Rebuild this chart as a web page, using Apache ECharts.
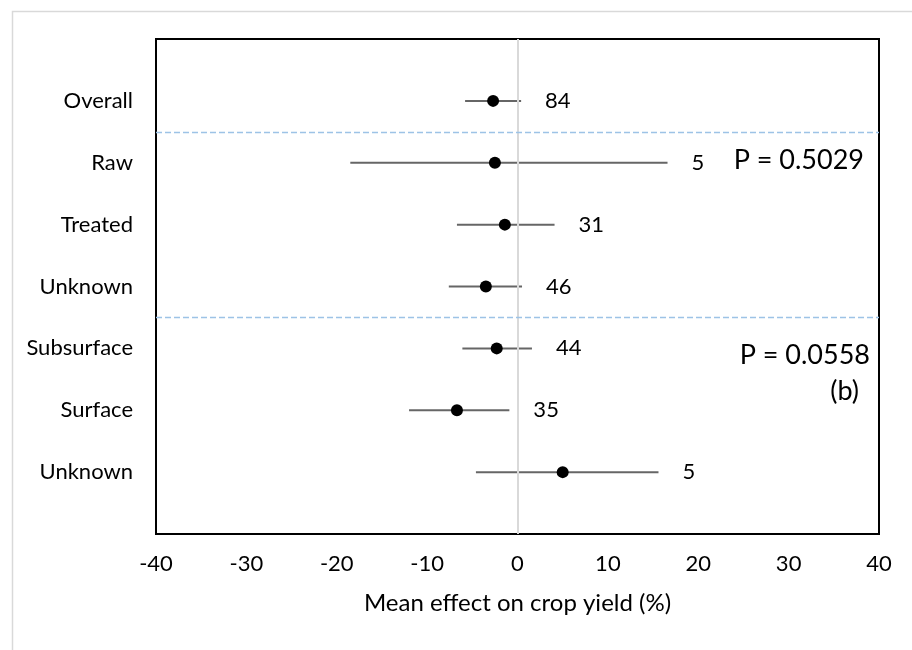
<!DOCTYPE html>
<html>
<head>
<meta charset="utf-8">
<script src="https://cdn.jsdelivr.net/npm/echarts@6/dist/echarts.min.js"></script>
<style>html,body{margin:0;padding:0;background:#fff}#chart{width:912px;height:650px}</style>
</head>
<body>
<div id="chart"></div>
<script>
// Groups listed top to bottom
const categories = ['Overall', 'Raw', 'Treated', 'Unknown', 'Subsurface', 'Surface', 'Unknown'];
const meanEffect = [-2.7, -2.5, -1.4, -3.5, -2.3, -6.7, 5.0];
const ciLower = [-5.8, -18.5, -6.7, -7.6, -6.1, -12.0, -4.6];
const ciUpper = [0.4, 16.6, 4.1, 0.5, 1.6, -0.9, 15.6];
const sampleN = [84, 5, 31, 46, 44, 35, 5];
const xTicks = [-40, -30, -20, -10, 0, 10, 20, 30, 40];
const groupDividers = [6.5, 3.5];
const pLabels = ['P = 0.5029', 'P = 0.0558', '(b)'];

// row position: first category at top
const rowY = i => categories.length - i;
const yLabelFor = v => {
  const idx = categories.length - v;
  return (Number.isInteger(v) && idx >= 0 && idx < categories.length) ? categories[idx] : '';
};

const font = 'Lato';
const chart = echarts.init(document.getElementById('chart'));

const barData = categories.map((c, i) => [ciLower[i], ciUpper[i], rowY(i)]);
const pointData = categories.map((c, i) => [meanEffect[i], rowY(i)]);
const nData = categories.map((c, i) => [ciUpper[i], rowY(i), sampleN[i]]);

chart.setOption({
  animation: false,
  backgroundColor: '#fff',
  grid: {
    left: 156, right: 33, top: 39, bottom: 116,
    show: true, borderColor: '#000', borderWidth: 2, backgroundColor: 'transparent'
  },
  xAxis: {
    type: 'value', min: xTicks[0], max: xTicks[xTicks.length - 1], interval: 10,
    axisLine: { show: false }, axisTick: { show: false }, splitLine: { show: false },
    axisLabel: { color: '#000', fontFamily: font, fontSize: 22, margin: 19 },
    name: 'Mean effect on crop yield (%)', nameLocation: 'middle', nameGap: 57,
    nameTextStyle: { color: '#000', fontFamily: font, fontSize: 24 }
  },
  yAxis: {
    type: 'value', min: 0, max: 8, interval: 1,
    axisLine: { show: false }, axisTick: { show: false }, splitLine: { show: false },
    axisLabel: { color: '#000', fontFamily: font, fontSize: 22, margin: 23, formatter: v => yLabelFor(v) }
  },
  graphic: [
    { type: 'rect', left: 10, top: 9, shape: { width: 920, height: 660 },
      style: { fill: 'none', stroke: '#d9d9d9', lineWidth: 1.5 }, z: -10 },
    { type: 'text', right: 48, top: 147, style: { text: pLabels[0], fill: '#000', font: '27px Lato', textAlign: 'right' } },
    { type: 'text', right: 42, top: 342, style: { text: pLabels[1], fill: '#000', font: '27px Lato', textAlign: 'right' } },
    { type: 'text', right: 53, top: 378, style: { text: pLabels[2], fill: '#000', font: '27px Lato', textAlign: 'right' } }
  ],
  series: [
    {
      type: 'custom',
      data: barData,
      renderItem: (params, api) => {
        const a = api.coord([api.value(0), api.value(2)]);
        const b = api.coord([api.value(1), api.value(2)]);
        return { type: 'line', shape: { x1: a[0], y1: a[1], x2: b[0], y2: b[1] },
          style: { stroke: '#666666', lineWidth: 2 } };
      },
      markLine: {
        silent: true, symbol: 'none', label: { show: false },
        data: [
          { xAxis: 0, lineStyle: { color: '#d9d9d9', width: 2, type: 'solid' } },
          ...groupDividers.map(v => ({ yAxis: v, lineStyle: { color: '#9dc3e6', width: 1.3, type: [6, 3] } }))
        ]
      },
      z: 3
    },
    {
      type: 'scatter', data: pointData, symbol: 'circle', symbolSize: 12,
      itemStyle: { color: '#000', opacity: 1 }, z: 5
    },
    {
      type: 'scatter', data: nData, symbolSize: 0,
      itemStyle: { opacity: 1 },
      label: { show: true, position: 'right', distance: 24, color: '#000', fontFamily: font, fontSize: 22,
        formatter: p => String(p.value[2]) },
      z: 4
    }
  ]
});
</script>
</body>
</html>
